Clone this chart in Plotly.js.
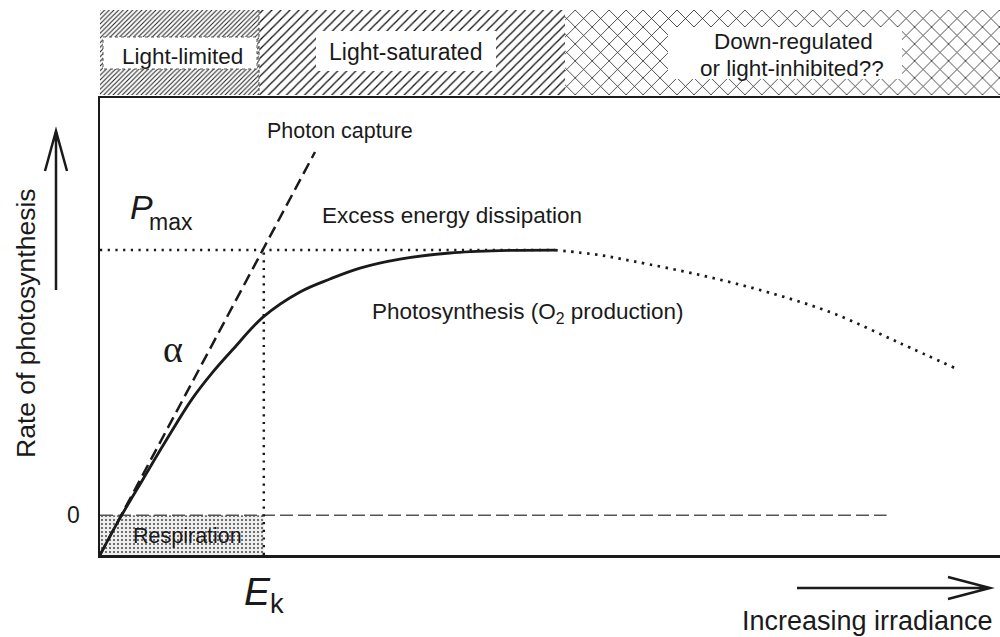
<!DOCTYPE html>
<html>
<head>
<meta charset="utf-8">
<script src="https://cdn.plot.ly/plotly-3.0.1.min.js"></script>
<style>html,body{margin:0;padding:0;background:#fff}#chart{width:1000px;height:637px}</style>
</head>
<body>
<div id="chart"></div>
<script>
// ---- Data (arbitrary units: irradiance 0..100, rate with Pmax = 10) ----
const irrSolid  = [0, 2.22, 4.78, 7.22, 10.22, 12.44, 14.78, 18.11, 22.22, 25.56, 28.89, 33.33, 38.89, 44.44, 50.56];
const rateSolid = [-1.5, -0.11, 1.36, 2.75, 4.38, 5.36, 6.26, 7.47, 8.42, 8.91, 9.32, 9.66, 9.89, 9.98, 10.0];
const irrInhib  = [50.56, 55.56, 59.22, 66.67, 74.11, 81.44, 88.89, 95.0];
const rateInhib = [10.0, 9.81, 9.58, 9.06, 8.42, 7.62, 6.49, 5.55];
const irrCapture  = [0, 23.89];
const rateCapture = [-1.5, 13.70];
const Pmax = 10;
const Ek = 18.2;
const respiration = -1.5;
const zeroLineEnd = 87.4;
const regionNames = ['Light-limited', 'Light-saturated', 'Down-regulated<br>or light-inhibited??'];
const regionEdges = [0, 17.7, 51.67, 100];

// ---- helpers ----
const FONT = 'Liberation Sans, Arial, Helvetica, sans-serif';
const INK = '#1a1a1a';
const W = 1000, H = 637;
const PX = v => v / W;
const PY = v => 1 - v / H;

const traces = [];

// top band regions with hatch patterns
const patterns = [
  {shape: '/', size: 3.3, solidity: 0.32, fgcolor: '#222'},
  {shape: '/', size: 6.4, solidity: 0.2, fgcolor: '#111'},
  {shape: 'x', size: 12, solidity: 0.12, fgcolor: '#111'}
];
for (let i = 0; i < regionNames.length; i++) {
  const a = regionEdges[i], b = regionEdges[i + 1];
  traces.push({
    type: 'scatter', mode: 'lines', xaxis: 'x2', yaxis: 'y2',
    x: [a, b, b, a, a], y: [0, 0, 1, 1, 0],
    fill: 'toself', fillcolor: 'white',
    fillpattern: Object.assign({bgcolor: 'white'}, patterns[i]),
    line: {width: 0}, hoverinfo: 'skip'
  });
}

// respiration box (stippled)
traces.push({
  type: 'scatter', mode: 'lines',
  x: [0, Ek, Ek, 0, 0], y: [respiration, respiration, 0, 0, respiration],
  fill: 'toself', fillcolor: '#eeeeee',
  fillpattern: {shape: '.', size: 4, solidity: 0.2, fgcolor: '#444', bgcolor: '#eeeeee'},
  line: {width: 0}, hoverinfo: 'skip'
});
// zero line
traces.push({type: 'scatter', mode: 'lines', x: [0, zeroLineEnd], y: [0, 0],
  line: {color: '#555', width: 1.3, dash: '13px,5px'}, hoverinfo: 'skip'});
// Pmax line
traces.push({type: 'scatter', mode: 'lines', x: [0, irrSolid[irrSolid.length - 1]], y: [Pmax, Pmax],
  line: {color: INK, width: 2.5, dash: '2.2px,5.5px'}, hoverinfo: 'skip'});
// Ek line
traces.push({type: 'scatter', mode: 'lines', x: [Ek, Ek], y: [respiration, Pmax],
  line: {color: INK, width: 2.5, dash: '2.2px,5.5px'}, hoverinfo: 'skip'});
// photon capture (initial slope)
traces.push({type: 'scatter', mode: 'lines', x: irrCapture, y: rateCapture,
  line: {color: INK, width: 2.5, dash: '12px,6px'}, hoverinfo: 'skip'});
// inhibition continuation
traces.push({type: 'scatter', mode: 'lines', x: irrInhib, y: rateInhib, line: {color: INK, width: 2.7, dash: '2.5px,5.5px', shape: 'spline'}, hoverinfo: 'skip'});
// photosynthesis curve
traces.push({type: 'scatter', mode: 'lines', x: irrSolid, y: rateSolid, line: {color: INK, width: 2.8, shape: 'spline', smoothing: 1}, hoverinfo: 'skip'});

// ---- shapes: white label boxes, boundary, arrows ----
const shapes = [
  {type: 'rect', xref: 'paper', yref: 'paper', x0: PX(103), x1: PX(257), y0: PY(37), y1: PY(69),
   fillcolor: 'white', line: {color: '#555', width: 1, dash: 'dot'}, layer: 'above'},
  {type: 'rect', xref: 'paper', yref: 'paper', x0: PX(316), x1: PX(496), y0: PY(31), y1: PY(71),
   fillcolor: 'white', line: {width: 0}, layer: 'above'},
  {type: 'rect', xref: 'paper', yref: 'paper', x0: PX(668), x1: PX(902), y0: PY(27), y1: PY(79),
   fillcolor: 'white', line: {width: 0}, layer: 'above'},
  {type: 'line', xref: 'paper', yref: 'paper', x0: PX(259), x1: PX(259), y0: PY(10), y1: PY(95),
   line: {color: '#444', width: 1, dash: 'dot'}, layer: 'above'},
  // y arrow
  {type: 'path', xref: 'paper', yref: 'paper', layer: 'above', line: {color: INK, width: 2.5},
   path: `M${PX(56)},${PY(290)} L${PX(56)},${PY(132)} M${PX(45)},${PY(171)} L${PX(56)},${PY(131)} L${PX(67)},${PY(171)}`},
  // x arrow
  {type: 'path', xref: 'paper', yref: 'paper', layer: 'above', line: {color: INK, width: 2.5},
   path: `M${PX(797)},${PY(588)} L${PX(988)},${PY(588)} M${PX(948)},${PY(577)} L${PX(990)},${PY(588)} L${PX(948)},${PY(599)}`}
];

// ---- annotations ----
function ann(text, x, y, size, extra) {
  return Object.assign({text: text, xref: 'paper', yref: 'paper', x: PX(x), y: PY(y),
    xanchor: 'center', yanchor: 'middle', showarrow: false,
    font: {family: FONT, size: size, color: INK}}, extra || {});
}
const ddLines = regionNames[2].split('<br>');
const annotations = [
  ann(regionNames[0], 182.5, 56, 22.5),
  ann(regionNames[1], 405, 52, 23),
  ann(ddLines[0], 793, 42, 22.5),
  ann(ddLines[1], 792, 68, 22.5),
  ann('Photon capture', 340, 131, 21.5),
  ann('Excess energy dissipation', 452, 215, 22.5),
  ann('Photosynthesis (O<sub>2</sub> production)', 527, 313, 22.5),
  ann('Respiration', 187, 536, 21.5),
  ann('<i>P</i>', 141, 207, 34),
  ann('max', 171, 222, 23),
  ann('α', 173, 349, 38, {font: {family: 'Liberation Serif, Times New Roman, serif', size: 38, color: INK}}),
  ann('Increasing irradiance', 867, 621, 27),
  ann('Rate of photosynthesis', 26, 323, 26.5, {textangle: -90})
];

const layout = {
  width: W, height: H,
  margin: {l: 0, r: 0, t: 0, b: 0},
  paper_bgcolor: 'white', plot_bgcolor: 'rgba(0,0,0,0)',
  showlegend: false,
  font: {family: FONT, color: INK},
  xaxis: {domain: [0.1, 1], range: [0, 100], anchor: 'y',
    showline: true, linewidth: 2.5, linecolor: INK, mirror: true,
    showgrid: false, zeroline: false, ticks: '',
    tickvals: [Ek], ticktext: ['<i>E</i><sub>k</sub>'],
    tickfont: {family: FONT, size: 39, color: INK}, ticklabelstandoff: 1, fixedrange: true},
  yaxis: {domain: [(H - 555) / H, (H - 98) / H], range: [-1.5, 15.736], anchor: 'x',
    showline: true, linewidth: 2.5, linecolor: INK, mirror: false,
    showgrid: false, zeroline: false, ticks: '',
    tickvals: [0], ticktext: ['0'],
    tickfont: {family: FONT, size: 23, color: INK}, ticklabelstandoff: 13, fixedrange: true},
  xaxis2: {domain: [0.1, 1], range: [0, 100], anchor: 'y2', visible: false, fixedrange: true},
  yaxis2: {domain: [(H - 95) / H, (H - 10) / H], range: [0, 1], anchor: 'x2', visible: false, fixedrange: true},
  shapes: shapes,
  annotations: annotations
};

Plotly.newPlot('chart', traces, layout, {staticPlot: true, displayModeBar: false});
</script>
</body>
</html>
